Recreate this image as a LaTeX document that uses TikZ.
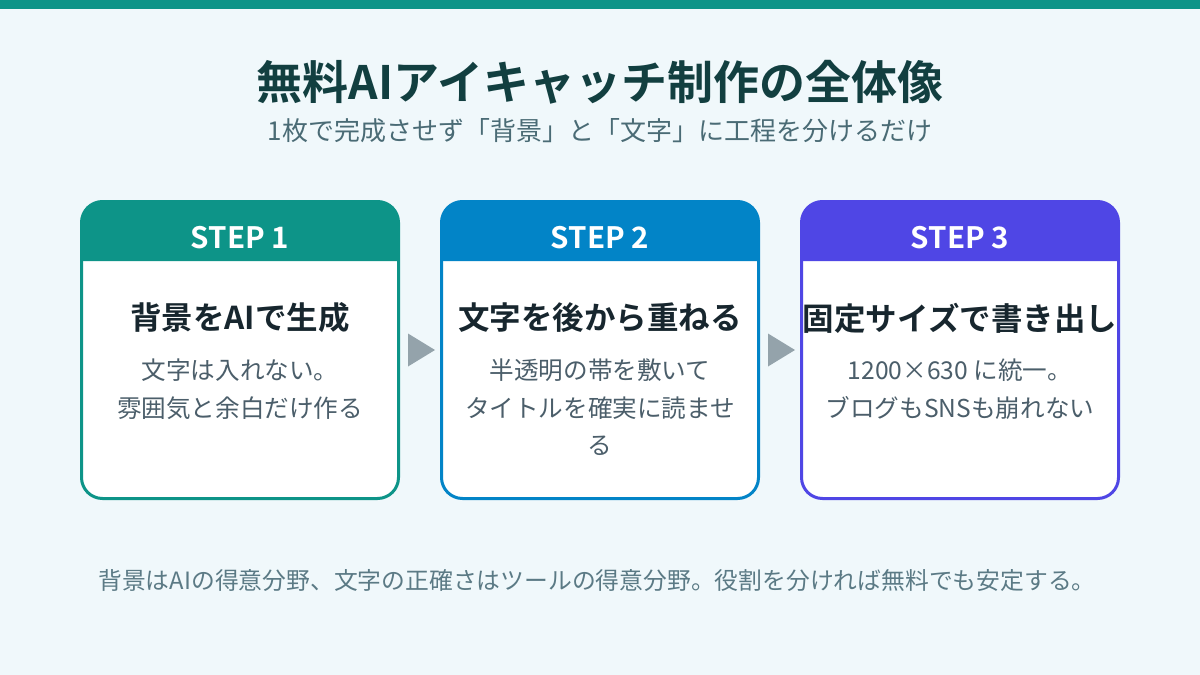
\documentclass[tikz,border=0pt]{standalone}
\usepackage{fontspec}
\setmainfont{Noto Sans CJK JP}[BoldFont={Noto Sans CJK JP Bold}]
\usetikzlibrary{calc}
\definecolor{bg}{HTML}{F0F8FB}
\definecolor{topbar}{HTML}{0D9488}
\definecolor{titlec}{HTML}{123F40}
\definecolor{subc}{HTML}{4A6B75}
\definecolor{headc}{HTML}{17262E}
\definecolor{bodyc}{HTML}{4B5E6A}
\definecolor{footc}{HTML}{5B7A85}
\definecolor{arrowc}{HTML}{94A3AB}
\definecolor{cone}{HTML}{0D9488}
\definecolor{ctwo}{HTML}{0284C7}
\definecolor{cthree}{HTML}{4F46E5}
\tikzset{
  card/.style={draw=#1, fill=white, line width=3pt, rounded corners=21pt,
    minimum width=317pt, minimum height=297pt, outer sep=0pt, inner sep=0pt},
  steplbl/.style={text=white, font=\fontsize{29.5}{32}\selectfont\bfseries, inner sep=0pt},
  headlbl/.style={text=headc, font=\fontsize{31.5}{36}\selectfont\bfseries, inner sep=0pt},
  bodylbl/.style={text=bodyc, font=\fontsize{24.6}{37.5}\selectfont, align=center, inner sep=0pt},
  arrowtri/.style={fill=arrowc},
}
\begin{document}
\begin{tikzpicture}[x=1pt,y=-1pt]
\useasboundingbox (0,0) rectangle (1200,675);
\fill[bg] (0,0) rectangle (1200,675);
\fill[topbar] (0,0) rectangle (1200,8.5);
\node[text=titlec, font=\fontsize{46}{50}\selectfont\bfseries, inner sep=0pt] (title) at (600,82) {無料AIアイキャッチ制作の全体像};
\node[text=subc, font=\fontsize{26}{30}\selectfont, inner sep=0pt] (subtitle) at (600,131) {1枚で完成させず「背景」と「文字」に工程を分けるだけ};
% cards
\foreach \n/\cx/\col in {c1/240/cone, c2/600/ctwo, c3/960/cthree}{
  \node[card=\col] (\n) at (\cx,350) {};
  \fill[\col] (\n.west |- 0,261) [rounded corners=21pt]-- (\n.north west) -- (\n.north east) [sharp corners]-- (\n.east |- 0,261) -- cycle;
}
\node[steplbl] (s1) at (240,238) {STEP 1};
\node[steplbl] (s2) at (600,238) {STEP 2};
\node[steplbl] (s3) at (960,238) {STEP 3};
\node[headlbl] (h1) at (240,318) {背景をAIで生成};
\node[headlbl] (h2) at (600,318) {文字を後から重ねる};
\node[headlbl] (h3) at (960,318) {固定サイズで書き出し};
\node[bodylbl] (b1) at (240,389) {文字は入れない。\\雰囲気と余白だけ作る};
\node[bodylbl] (b2) at (600,407.5) {半透明の帯を敷いて\\タイトルを確実に読ませ\\る};
\node[bodylbl] (b3) at (960,389) {1200×630 に統一。\\ブログもSNSも崩れない};
% arrows
\fill[arrowtri] ($(c1.east)+(9.5,-16.5)$) -- ($(c1.east)+(9.5,16.5)$) -- ($(c1.east)+(36.5,0)$) -- cycle;
\fill[arrowtri] ($(c2.east)+(9.5,-16.5)$) -- ($(c2.east)+(9.5,16.5)$) -- ($(c2.east)+(36.5,0)$) -- cycle;
\node[text=footc, font=\fontsize{23.8}{28}\selectfont, inner sep=0pt] (foot) at (597,580) {背景はAIの得意分野、文字の正確さはツールの得意分野。役割を分ければ無料でも安定する。};
\end{tikzpicture}
\end{document}
